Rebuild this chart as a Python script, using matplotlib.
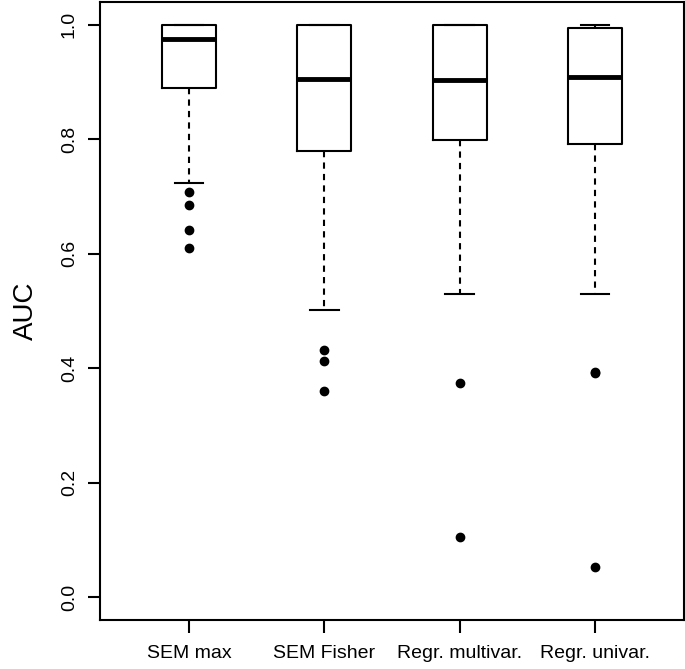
import matplotlib
matplotlib.use("Agg")
import matplotlib.pyplot as plt

plt.rcParams['font.family'] = ['Liberation Sans', 'DejaVu Sans']

# data (AUC per method)
methods = ["SEM max", "SEM Fisher", "Regr. multivar.", "Regr. univar."]
q1 = [0.889, 0.779, 0.799, 0.791]
med = [0.975, 0.905, 0.904, 0.909]
q3 = [1.000, 1.000, 1.000, 0.995]
whislo = [0.724, 0.501, 0.530, 0.530]
whishi = [1.000, 1.000, 1.000, 1.000]
fliers = [
    [0.7075, 0.686, 0.642, 0.610],
    [0.432, 0.413, 0.360],
    [0.374, 0.1045],
    [0.391, 0.394, 0.0525],
]

stats = []
for i, name in enumerate(methods):
    stats.append(dict(label=name, q1=q1[i], med=med[i], q3=q3[i],
                      whislo=whislo[i], whishi=whishi[i], fliers=fliers[i]))

fig = plt.figure(figsize=(6.85, 6.69), dpi=100)
ax = fig.add_axes([100 / 685, 49 / 669, 584 / 685, 618 / 669])

ax.bxp(stats, positions=range(1, len(methods) + 1), widths=0.4,
       boxprops=dict(color='black', linewidth=1.5),
       medianprops=dict(color='black', linewidth=3.5, solid_capstyle='butt'),
       whiskerprops=dict(color='black', linewidth=1.5, linestyle=(0, (3, 2.5))),
       capprops=dict(color='black', linewidth=1.5),
       capwidths=0.21,
       flierprops=dict(marker='o', markerfacecolor='black', markeredgecolor='black',
                       markersize=6, linestyle='none'))

ax.set_xlim(0.34, 4.66)
ax.set_ylim(-0.04, 1.04)
ax.set_yticks([0.0, 0.2, 0.4, 0.6, 0.8, 1.0])
ax.set_yticklabels(["0.0", "0.2", "0.4", "0.6", "0.8", "1.0"], rotation=90, va='center')
ax.set_xticks(range(1, len(methods) + 1))
ax.set_xticklabels(methods)
ax.tick_params(axis='both', length=9, width=1.5, labelsize=14, color='black')
ax.tick_params(axis='y', pad=7)
ax.tick_params(axis='x', pad=9)
ax.set_ylabel("AUC", fontsize=20, labelpad=16)
for s in ax.spines.values():
    s.set_linewidth(1.5)

fig.savefig("out.png", dpi=100)
